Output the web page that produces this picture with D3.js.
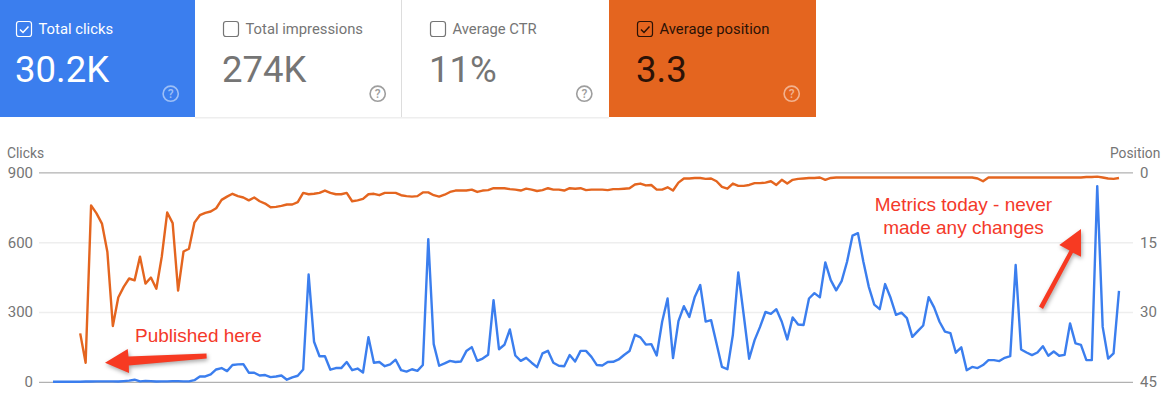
<!DOCTYPE html>
<html><head><meta charset="utf-8">
<script src="https://cdn.jsdelivr.net/npm/d3@7/dist/d3.min.js"></script>
<style>
html,body{margin:0;padding:0;background:#fff;overflow:hidden}
svg{display:block}
text{font-family:Roboto,sans-serif}
.note{font-family:"Liberation Sans",Arial,sans-serif;font-size:19px;fill:#f4392a}
.arrow{fill:#f73a22;filter:drop-shadow(1px 2px 2px rgba(0,0,0,.35))}
</style></head><body>
<script>
const clicks=[0,0,0,0,0,0,1,1,2,2,2,2,1,3,5,9,2,4,3,1,2,2,3,3,2,2,7,23,23,32,53,59,46,72,75,76,39,39,27,29,20,23,27,9,19,26,53,461,172,110,110,52,59,59,85,50,57,40,192,82,85,67,75,95,50,44,54,47,72,613,162,69,79,90,85,87,132,149,90,100,116,351,140,159,225,113,90,103,82,63,122,133,82,69,67,115,87,133,133,107,72,70,85,86,96,115,132,202,191,160,162,113,258,358,102,261,325,279,365,416,259,265,165,64,54,201,470,287,99,179,236,300,292,312,258,182,277,246,244,358,381,363,513,437,393,433,516,628,639,516,408,332,312,420,361,288,297,274,193,218,242,364,320,258,216,209,125,148,50,64,59,72,93,93,89,103,110,502,139,126,115,126,153,112,130,112,116,251,165,159,93,93,841,236,100,122,391];
const position=[null,null,null,null,null,34.6,40.9,7.1,8.8,11,17.1,33,26.9,24.6,22.8,23.2,18.1,23.9,22.6,25,18.1,8.6,10.9,25.4,17,16.4,10.8,9.2,8.7,8.4,7.7,5.9,5.2,4.6,5.1,5.4,6,5.4,6.2,6.7,7.5,7.4,7.2,6.9,6.9,6.4,4.4,4.7,4.6,4.4,3.9,4.4,4.7,4.7,4.4,6.2,6,5.7,4.7,4.6,4.9,4.4,4.4,4.4,4.9,5.1,5.2,5.1,4.3,4.3,4.9,5.2,4.8,4.2,3.9,3.9,3.9,3.7,4.2,3.9,3.8,3.4,3.4,3.4,3.6,3.7,3.9,3.5,3.7,4,3.8,3.4,3.7,3.7,3.9,3.4,3.5,3.4,3.8,3.7,3.7,3.7,3.8,3.6,3.6,3.5,3.4,2.6,2.4,2.8,2.7,3.7,3.7,3.2,3.9,2.2,1.3,1.3,1.2,1.2,1.4,1.3,1.9,3.1,3.5,2.4,2.9,2.9,2.7,2.3,2.3,2.2,1.9,2.7,1.6,2.4,1.6,1.4,1.3,1.2,1.2,1.1,1.6,1.2,1.1,1.1,
1.1,1.1,1.1,1.1,1.1,1.1,1.1,1.1,
1.1,1.1,1.1,1.1,1.1,1.1,1.1,1.1,
1.1,1.1,1.1,1.1,1.1,1.1,1.1,1.1,
1.3,1.9,
1.1,1.1,1.1,1.1,1.1,1.1,
1.1,1.1,1.1,1.1,1.1,1.1,
1.1,1.1,1.1,1.1,1.1,1.1,
1,1,0.9,1.1,1.3,1.4,1.2];
const clickTicks=[0,300,600,900];
const positionTicks=[0,15,30,45];
const cardNames=["Total clicks","Total impressions","Average CTR","Average position"];
const cardValues=["30.2K","274K","11%","3.3"];
const cardChecked=[true,false,false,true];
const cardBg=["#3b7eee","#ffffff","#ffffff","#e4651f"];
const cardFg=["#ffffff","#757575","#757575","#2b1206"];
const cardLabelFg=["#ffffff","#757575","#757575","#2b1206"];
const cardX=[0,195,402,609];
const cardR=[195,401,609,816];
const cardTextX=[16,223,430,637];
const helpX=[170.7,377.7,584.3,791.7];
const helpColor=["#9dbff6","#9e9e9e","#9e9e9e","#f2b28f"];

const W=1171,H=396;
const svg=d3.select("body").append("svg").attr("width",W).attr("height",H);

// cards
svg.append("rect").attr("x",195).attr("y",117).attr("width",414).attr("height",1.5).attr("fill","#eeeeee");
cardNames.forEach((name,i)=>{
  const g=svg.append("g");
  g.append("rect").attr("x",cardX[i]).attr("y",0).attr("width",cardR[i]-cardX[i]).attr("height",117).attr("fill",cardBg[i]);
  const tx=cardTextX[i];
  g.append("rect").attr("x",tx+.5).attr("y",21.5).attr("width",15).attr("height",15).attr("rx",2.5)
    .attr("fill","none").attr("stroke",cardLabelFg[i]).attr("stroke-width",1.2);
  if(cardChecked[i]) g.append("path").attr("d",`M${tx+4} ${29.5}l3 3l5.5 -6`).attr("fill","none").attr("stroke",cardLabelFg[i]).attr("stroke-width",1.5);
  g.append("text").attr("x",tx+22.5).attr("y",34).attr("font-size",14.8).attr("fill",cardLabelFg[i]).text(name);
  g.append("text").attr("x",tx-1).attr("y",81.5).attr("font-size",36.5).attr("fill",cardFg[i]).text(cardValues[i]);
  g.append("circle").attr("cx",helpX[i]).attr("cy",93.7).attr("r",7.6).attr("fill","none").attr("stroke",helpColor[i]).attr("stroke-width",1.6);
  g.append("text").attr("x",helpX[i]).attr("y",98).attr("font-size",12).attr("font-weight",500).attr("text-anchor","middle").attr("fill",helpColor[i]).text("?");
});
svg.append("rect").attr("x",401).attr("y",0).attr("width",1).attr("height",117).attr("fill","#dddddd");

// scales
const x=d3.scaleLinear().domain([0,clicks.length-1]).range([53,1119]);
const yL=d3.scaleLinear().domain([0,900]).range([381.8,172.4]);
const yR=d3.scaleLinear().domain([0,45]).range([172.4,381.8]);

// axes
const left=svg.append("g").attr("transform","translate(39,0)")
  .call(d3.axisLeft(yL).tickValues(clickTicks).tickSize(0).tickPadding(6));
const right=svg.append("g").attr("transform","translate(1133,0)")
  .call(d3.axisRight(yR).tickValues(positionTicks).tickSize(0).tickPadding(7));
[left,right].forEach(a=>{
  a.select(".domain").remove();
  a.selectAll("text").attr("font-family","Roboto,sans-serif").attr("font-size",15).attr("fill","#757575");
});
const grid=svg.append("g").attr("transform","translate(39,0)")
  .call(d3.axisLeft(yL).tickValues(clickTicks).tickSize(-1094).tickFormat(""));
grid.select(".domain").remove();
grid.selectAll("line").attr("stroke",d=>(d===0||d===900)?"#9e9e9e":"#eeeeee").attr("stroke-width",d=>(d===0||d===900)?1:1.5);

svg.append("text").attr("x",7).attr("y",158).attr("font-size",13.8).attr("fill","#757575").text("Clicks");
svg.append("text").attr("x",1110).attr("y",158).attr("font-size",13.8).attr("fill","#757575").text("Position");

// lines
const lineClicks=d3.line().x((d,i)=>x(i)).y(d=>yL(d));
const linePos=d3.line().defined(d=>d!==null).x((d,i)=>x(i)).y(d=>yR(d));
svg.append("path").datum(position).attr("d",linePos).attr("fill","none").attr("stroke","#e4651f").attr("stroke-width",2.4).attr("stroke-linejoin","round");
svg.append("path").datum(clicks).attr("d",lineClicks).attr("fill","none").attr("stroke","#3b7eee").attr("stroke-width",2.4).attr("stroke-linejoin","round");

// annotations
svg.append("text").attr("class","note").attr("x",135).attr("y",342).text("Published here");
svg.append("text").attr("class","note").attr("x",963.5).attr("y",211).attr("text-anchor","middle").text("Metrics today - never");
svg.append("text").attr("class","note").attr("x",963.5).attr("y",234).attr("text-anchor","middle").text("made any changes");
svg.append("path").attr("class","arrow").attr("d","M105 362.7L127.7 349L128.5 356.4L206.5 353.5L206.7 358.5L128.8 365.5L129 373Z");
svg.append("path").attr("class","arrow").attr("d","M1081 229L1059.3 245L1069.5 250.5L1039 306.5L1043 309L1073 252.7L1081 256.7Z");
</script>
</body></html>
